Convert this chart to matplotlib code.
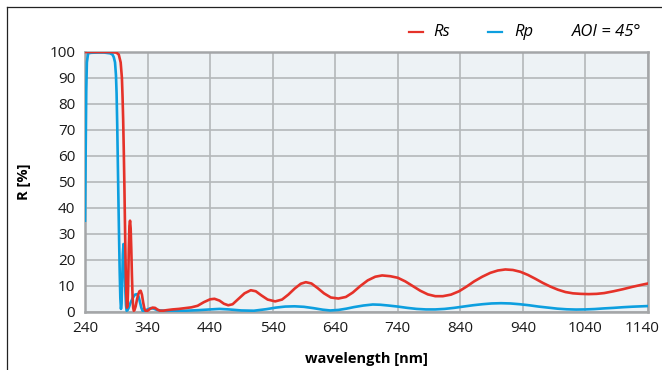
# Reflectance curves Rs / Rp at AOI = 45 deg
import numpy as np
import matplotlib
matplotlib.use("Agg")
import matplotlib.pyplot as plt
from matplotlib.lines import Line2D
from matplotlib.transforms import ScaledTranslation

plt.rcParams['font.family'] = ['Open Sans', 'DejaVu Sans']

# Rs (red), values
rs_wl = [240, 250, 260, 270, 280, 290, 294, 297, 299, 300, 301, 302, 303, 304, 305, 306, 307,
         308, 309, 310, 311, 312, 313, 314, 315, 316, 317, 318, 319, 321, 323, 325, 327, 329,
         331, 333, 335, 337, 340, 344, 348, 352, 356, 360, 365, 370, 380, 390, 400, 410, 420,
         430, 440, 447, 455, 462, 469, 476, 485, 495, 505, 513, 522, 532, 544, 555, 565, 575,
         585, 593, 602, 612, 622, 633, 645, 657, 668, 680, 692, 704, 715, 728, 740, 752, 764,
         776, 788, 800, 812, 825, 838, 850, 862, 875, 888, 900, 912, 924, 936, 948, 960, 972,
         984, 996, 1008, 1020, 1032, 1045, 1058, 1070, 1085, 1100, 1115, 1130, 1140]
rs_val = [100, 100, 100, 100, 100, 99.8, 99, 96, 90, 83, 74, 62, 48, 32, 17, 7, 1.5,
          2, 10, 24, 33, 35, 32, 24, 14, 6, 1.5, 0.3, 0.5, 2, 4.5, 6.5, 7.8, 8,
          6.5, 3.5, 1, 0.2, 0.3, 1, 1.5, 1.4, 0.7, 0.3, 0.3, 0.5, 0.8, 1, 1.3, 1.6, 2.2,
          3.6, 4.7, 4.9, 4.2, 3, 2.4, 2.8, 4.8, 7, 8.2, 7.8, 6.2, 4.6, 3.9, 4.6, 6.5, 8.8,
          10.7, 11.3, 10.8, 9, 7, 5.4, 5, 5.6, 7.3, 9.8, 12, 13.4, 13.9, 13.6, 13, 11.6, 9.8,
          8, 6.6, 5.9, 5.9, 6.5, 7.8, 9.6, 11.6, 13.4, 14.9, 15.8, 16.2, 16, 15.3, 14.1, 12.6, 11,
          9.6, 8.4, 7.5, 7, 6.8, 6.7, 6.8, 7.1, 7.8, 8.6, 9.5, 10.3, 10.8]

# Rp (blue)
rp_wl = [240, 241, 242, 243, 245, 250, 260, 270, 280, 284, 286, 288, 289.5, 290.5, 291.5,
         292.5, 293.5, 294.5, 295.5, 296.5, 297.5, 298.5, 299.5, 300.5, 301.5, 302.5, 303.5,
         304.5, 305.5, 306.5, 308, 310, 313, 317, 320, 323.5, 326, 328, 330, 332, 335, 340,
         345, 350, 355, 360, 370, 380, 390, 400, 420, 440, 455, 470, 490, 510, 530, 545, 560,
         575, 590, 605, 620, 632, 645, 658, 670, 685, 700, 712, 725, 740, 755, 770, 785, 800,
         815, 830, 845, 860, 875, 890, 905, 920, 935, 950, 965, 980, 995, 1010, 1025, 1040,
         1055, 1070, 1085, 1100, 1115, 1130, 1140]
rp_val = [35, 60, 85, 96, 99.5, 99.7, 99.8, 99.8, 99.5, 99, 98, 96, 91, 84, 72,
          57, 42, 28, 15, 5, 1, 3, 12, 22, 26, 24, 16,
          8, 2.5, 0.3, 0.5, 1.5, 3.5, 5.5, 6.5, 6.7, 5.5, 3.5, 1.5, 0.3, 0.3, 0.8,
          1.3, 1.1, 0.6, 0.4, 0.3, 0.3, 0.3, 0.3, 0.5, 0.8, 1, 0.8, 0.4, 0.3, 0.9, 1.5, 1.9,
          2, 1.8, 1.3, 0.7, 0.4, 0.6, 1.1, 1.7, 2.3, 2.7, 2.6, 2.3, 1.9, 1.4, 1, 0.8, 0.8,
          1, 1.4, 1.9, 2.4, 2.8, 3.1, 3.2, 3.1, 2.8, 2.4, 1.9, 1.5, 1.1, 0.85, 0.75, 0.8,
          0.95, 1.2, 1.4, 1.65, 1.85, 2, 2.1]

x_ticks = [240, 340, 440, 540, 640, 740, 840, 940, 1040, 1140]
y_ticks = [0, 10, 20, 30, 40, 50, 60, 70, 80, 90, 100]

red = '#e53229'
blue = '#0d9fdf'

fig = plt.figure(figsize=(6.62, 3.70), dpi=100)
ax = fig.add_axes([85 / 662, 1 - 311.5 / 370, (648 - 85) / 662, (311.5 - 52) / 370])
ax.set_facecolor('#edf2f5')

ax.plot(rp_wl, rp_val, color=blue, lw=1.9, solid_joinstyle='round', zorder=3)
ax.plot(rs_wl, rs_val, color=red, lw=1.9, solid_joinstyle='round', zorder=4)

ax.set_xlim(240, 1140)
ax.set_ylim(0, 100)
ax.set_xticks(x_ticks)
ax.set_yticks(y_ticks)
ax.grid(True, color='#b4b8ba', lw=1.2)
ax.set_axisbelow(True)
ax.tick_params(length=0, labelsize=11, pad=7, colors='#1a1a1a')
for s in ax.spines.values():
    s.set_color('#a4a6a8')
    s.set_linewidth(1.8)

# last x label is pulled left so it stays inside the picture
last = ax.get_xticklabels()[-1]
last.set_transform(last.get_transform() + ScaledTranslation(-6 / 100, 0, fig.dpi_scale_trans))

ax.set_xlabel('wavelength [nm]', fontsize=10.5, fontweight='bold', labelpad=11)
ax.set_ylabel('R [%]', fontsize=10.5, fontweight='bold', labelpad=13)

# legend row above the plot
ly = 1 - 32 / 370
fig.add_artist(Line2D([409 / 662, 423 / 662], [ly, ly], color=red, lw=1.6))
fig.text(433 / 662, ly, 'Rs', fontsize=12, style='italic', va='center')
fig.add_artist(Line2D([488 / 662, 502 / 662], [ly, ly], color=blue, lw=1.6))
fig.text(514 / 662, ly, 'Rp', fontsize=12, style='italic', va='center')
fig.text(572 / 662, ly, 'AOI = 45°', fontsize=12, style='italic', va='center')

# outer frame (left and top edges)
fig.add_artist(Line2D([6.5 / 662, 6.5 / 662], [0, 1 - 7 / 370], color='#222222', lw=0.9))
fig.add_artist(Line2D([6.5 / 662, 1], [1 - 7 / 370, 1 - 7 / 370], color='#222222', lw=0.9))

fig.savefig('out.png', dpi=100)
